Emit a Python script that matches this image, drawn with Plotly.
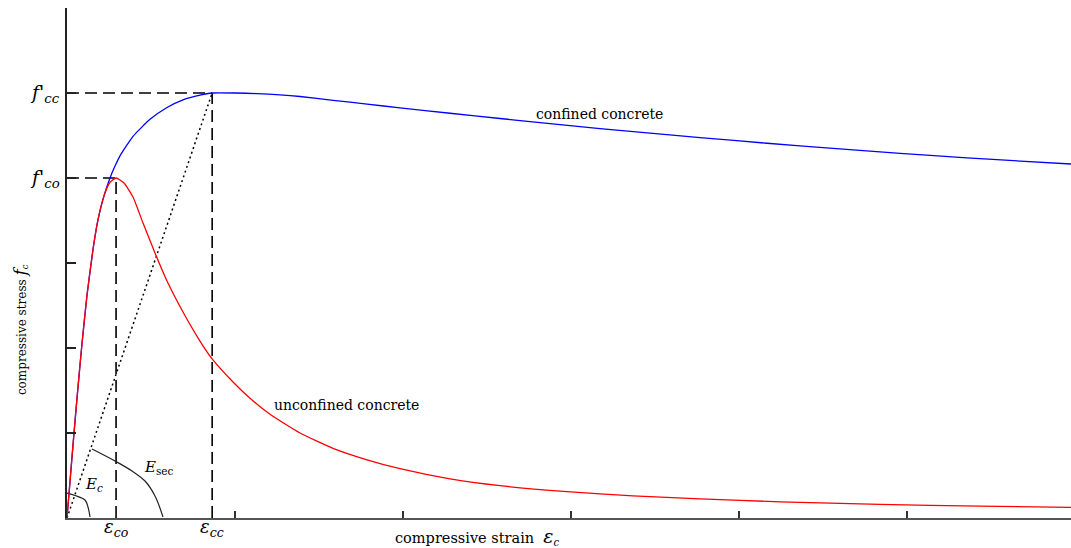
import plotly.graph_objects as go

# Peak points (strain, stress in MPa)
eps_co, f_co = 0.00146, 40.0
eps_cc, f_cc = 0.00432, 50.0

# Unconfined concrete stress-strain curve
unconf_strain = [0, 0.0000893, 0.000179, 0.000298, 0.000446, 0.000595, 0.000774, 0.000923,
                 0.001101, 0.00128, 0.00146, 0.001696, 0.001964, 0.002262, 0.002619, 0.002976,
                 0.003452, 0.003958, 0.00432, 0.00494, 0.005446, 0.006042, 0.006935, 0.007917,
                 0.008929, 0.009911, 0.011399, 0.012887, 0.014881, 0.016845, 0.018839, 0.02122,
                 0.024196, 0.027173, 0.029881]
unconf_stress = [0, 4.3, 8.6, 14.1, 20.5, 26.2, 31.6, 35.1,
                 37.9, 39.5, 40.0, 39.41, 37.76, 34.71, 31.18, 27.88,
                 24.24, 20.82, 18.71, 16.0, 14.1, 12.2, 10.0, 8.2,
                 6.85, 5.8, 4.6, 3.8, 3.1, 2.6, 2.25, 1.9,
                 1.6, 1.4, 1.25]

# Confined concrete stress-strain curve
conf_strain = [0, 0.0000893, 0.000179, 0.000298, 0.000446, 0.000595, 0.000774, 0.000923,
               0.001101, 0.00128, 0.001429, 0.001577, 0.001964, 0.00247, 0.002976, 0.003452,
               0.003958, 0.00432, 0.005, 0.005655, 0.006339, 0.006935, 0.007917, 0.008929,
               0.009911, 0.011399, 0.012887, 0.014375, 0.015863, 0.017351, 0.018839, 0.020833,
               0.022798, 0.024792, 0.026786, 0.029881]
conf_stress = [0, 4.3, 8.6, 14.1, 20.5, 26.2, 31.6, 35.1,
               37.9, 40.0, 41.4, 42.6, 44.9, 46.9, 48.3, 49.2,
               49.75, 50.0, 50.0, 49.93, 49.79, 49.59, 49.14, 48.69,
               48.26, 47.62, 47.0, 46.4, 45.82, 45.27, 44.75, 44.09,
               43.48, 42.9, 42.36, 41.65]

# Arcs marking the tangent (Ec) and secant (Esec) moduli
ec_arc_strain = [0, 0.000238, 0.000536, 0.000625, 0.000685]
ec_arc_stress = [2.94, 2.65, 2.12, 1.29, 0.12]
esec_arc_strain = [0.000744, 0.001429, 0.001935, 0.002321, 0.002619, 0.002857]
esec_arc_stress = [8.12, 6.71, 5.53, 4.35, 2.59, 0.12]

x_ticks = [0.005, 0.010, 0.015, 0.020, 0.025]
y_ticks = [0, 10, 20, 30, 40, 50, 60]

SERIF = "DejaVu Serif"
dash_style = dict(color="black", width=1.6, dash="12px,6px")

fig = go.Figure()

# Dashed guide lines to the peaks
fig.add_trace(go.Scatter(x=[0, eps_cc], y=[f_cc, f_cc], mode="lines", line=dash_style))
fig.add_trace(go.Scatter(x=[0, eps_co], y=[f_co, f_co], mode="lines", line=dash_style))
fig.add_trace(go.Scatter(x=[eps_co, eps_co], y=[0, f_co], mode="lines", line=dash_style))
fig.add_trace(go.Scatter(x=[eps_cc, eps_cc], y=[0, f_cc], mode="lines", line=dash_style))

# Secant line from origin to confined peak
fig.add_trace(go.Scatter(x=[0, eps_cc], y=[0, f_cc], mode="lines",
                         line=dict(color="black", width=1.5, dash="2px,3px")))

# Modulus arcs
fig.add_trace(go.Scatter(x=ec_arc_strain, y=ec_arc_stress, mode="lines",
                         line=dict(color="#222", width=1.2, shape="spline")))
fig.add_trace(go.Scatter(x=esec_arc_strain, y=esec_arc_stress, mode="lines",
                         line=dict(color="#222", width=1.2, shape="spline")))

# Stress-strain curves
fig.add_trace(go.Scatter(x=conf_strain, y=conf_stress, mode="lines",
                         line=dict(color="#0000ff", width=1.3, shape="spline", smoothing=0.5)))
fig.add_trace(go.Scatter(x=unconf_strain, y=unconf_stress, mode="lines",
                         line=dict(color="#ff0000", width=1.3, shape="spline", smoothing=0.5)))

annotations = [
    dict(x=0, y=f_cc, xref="paper", yref="y", xanchor="right", yanchor="middle", xshift=-5,
         text="<i>f'</i><sub><i>cc</i></sub>", font=dict(family=SERIF, size=19)),
    dict(x=0, y=f_co, xref="paper", yref="y", xanchor="right", yanchor="middle", xshift=-5,
         text="<i>f'</i><sub><i>co</i></sub>", font=dict(family=SERIF, size=19)),
    dict(x=eps_co, y=-0.02, xref="x", yref="paper", xanchor="center", yanchor="middle",
         text="<i>ε</i><sub><i>co</i></sub>", font=dict(family=SERIF, size=18)),
    dict(x=eps_cc, y=-0.02, xref="x", yref="paper", xanchor="center", yanchor="middle",
         text="<i>ε</i><sub><i>cc</i></sub>", font=dict(family=SERIF, size=18)),
    dict(x=0.000804, y=3.9, xref="x", yref="y", xanchor="center", yanchor="middle",
         text="<i>E</i><sub><i>c</i></sub>", font=dict(family=SERIF, size=15)),
    dict(x=0.00274, y=6.0, xref="x", yref="y", xanchor="center", yanchor="middle",
         text="<i>E</i><sub>sec</sub>", font=dict(family=SERIF, size=15)),
    dict(x=0.01586, y=47.5, xref="x", yref="y", xanchor="center", yanchor="middle",
         text="confined concrete", font=dict(family=SERIF, size=14)),
    dict(x=0.0061, y=13.3, xref="x", yref="y", xanchor="left", yanchor="middle",
         text="unconfined concrete", font=dict(family=SERIF, size=14)),
    dict(x=0.01223, y=-0.036, xref="x", yref="paper", xanchor="center", yanchor="middle",
         text="compressive strain  <span style='font-size:19px'><i>ε</i></span><sub><i>c</i></sub>",
         font=dict(family=SERIF, size=14.5)),
    dict(x=-0.047, y=22.2, xref="paper", yref="y", xanchor="center", yanchor="middle",
         textangle=-90,
         text="compressive stress <span style='font-size:17px'><i>f</i></span><sub><i>c</i></sub>",
         font=dict(family=SERIF, size=12)),
]
for a in annotations:
    a["showarrow"] = False
    a.setdefault("font", {})["color"] = "black"

fig.update_layout(
    width=1071, height=548,
    margin=dict(l=67, r=0, t=8, b=30),
    paper_bgcolor="white", plot_bgcolor="white",
    showlegend=False,
    annotations=annotations,
    xaxis=dict(range=[0, 0.02988], showgrid=False, zeroline=False,
               showline=True, linecolor="#555", linewidth=2,
               tickvals=x_ticks, ticks="inside", ticklen=7, tickwidth=2, tickcolor="#333",
               showticklabels=False, fixedrange=True),
    yaxis=dict(range=[0, 60], showgrid=False, zeroline=False,
               showline=True, linecolor="#222", linewidth=2,
               tickvals=y_ticks, ticks="inside", ticklen=9, tickwidth=2, tickcolor="#222",
               showticklabels=False, fixedrange=True),
)

fig.write_html("out.html")
